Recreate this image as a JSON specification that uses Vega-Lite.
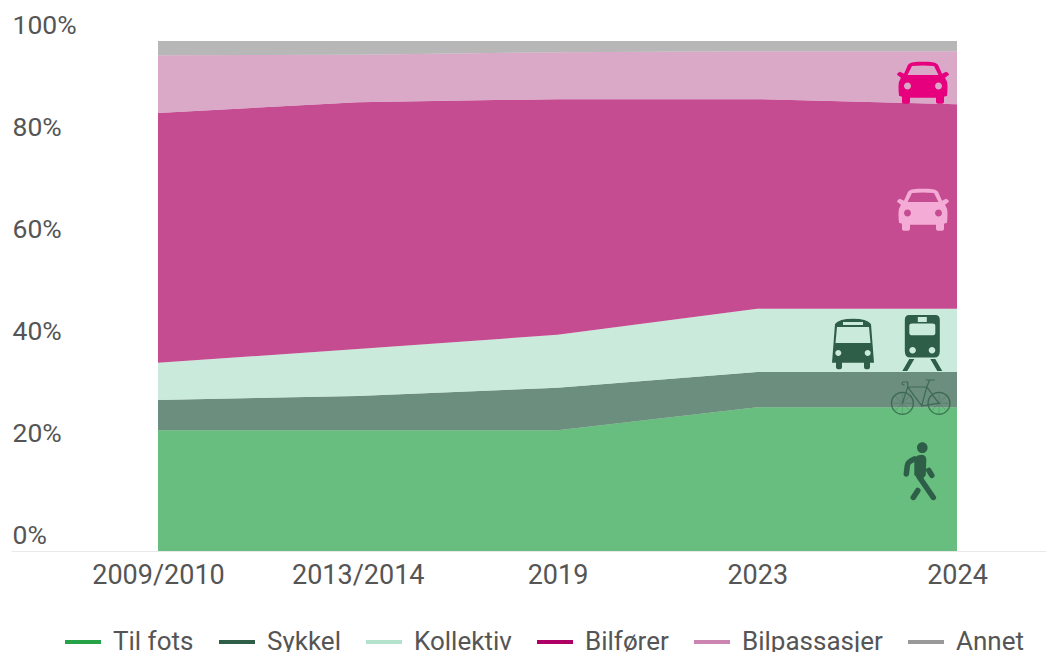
{
"$schema":"https://vega.github.io/schema/vega-lite/v6.json",
"autosize":"none",
"width":1035,"height":510,
"padding":{"left":11,"top":41,"right":0,"bottom":101},
"background":"white",
"config":{"view":{"stroke":null},"font":"Roboto"},
"layer":[
{"data":{"values":[
{"aar":"2009/2010","modus":"Til fots","rang":1,"andel":23.7},
{"aar":"2009/2010","modus":"Sykkel","rang":2,"andel":5.9},
{"aar":"2009/2010","modus":"Kollektiv","rang":3,"andel":7.3},
{"aar":"2009/2010","modus":"Bilfører","rang":4,"andel":49.0},
{"aar":"2009/2010","modus":"Bilpassasjer","rang":5,"andel":11.3},
{"aar":"2009/2010","modus":"Annet","rang":6,"andel":2.8},
{"aar":"2013/2014","modus":"Til fots","rang":1,"andel":23.7},
{"aar":"2013/2014","modus":"Sykkel","rang":2,"andel":6.7},
{"aar":"2013/2014","modus":"Kollektiv","rang":3,"andel":9.2},
{"aar":"2013/2014","modus":"Bilfører","rang":4,"andel":48.4},
{"aar":"2013/2014","modus":"Bilpassasjer","rang":5,"andel":9.3},
{"aar":"2013/2014","modus":"Annet","rang":6,"andel":2.7},
{"aar":"2019","modus":"Til fots","rang":1,"andel":23.7},
{"aar":"2019","modus":"Sykkel","rang":2,"andel":8.3},
{"aar":"2019","modus":"Kollektiv","rang":3,"andel":10.4},
{"aar":"2019","modus":"Bilfører","rang":4,"andel":46.2},
{"aar":"2019","modus":"Bilpassasjer","rang":5,"andel":9.2},
{"aar":"2019","modus":"Annet","rang":6,"andel":2.2},
{"aar":"2023","modus":"Til fots","rang":1,"andel":28.2},
{"aar":"2023","modus":"Sykkel","rang":2,"andel":6.9},
{"aar":"2023","modus":"Kollektiv","rang":3,"andel":12.4},
{"aar":"2023","modus":"Bilfører","rang":4,"andel":41.1},
{"aar":"2023","modus":"Bilpassasjer","rang":5,"andel":9.4},
{"aar":"2023","modus":"Annet","rang":6,"andel":2.0},
{"aar":"2024","modus":"Til fots","rang":1,"andel":28.2},
{"aar":"2024","modus":"Sykkel","rang":2,"andel":6.9},
{"aar":"2024","modus":"Kollektiv","rang":3,"andel":12.4},
{"aar":"2024","modus":"Bilfører","rang":4,"andel":40.1},
{"aar":"2024","modus":"Bilpassasjer","rang":5,"andel":10.4},
{"aar":"2024","modus":"Annet","rang":6,"andel":2.0}
]},
"mark":{"type":"area","opacity":0.7,"interpolate":"linear"},
"encoding":{
"x":{"field":"aar","type":"ordinal","sort":null,"title":null,
"scale":{"type":"point","domain":["2009/2010","2013/2014","2019","2023","2024"],"padding":0.59075,"align":0.6229},
"axis":{"labelAngle":0,"labelFont":"Roboto","labelFontSize":27,"labelColor":"#555555","ticks":false,"domainColor":"#e8e8e8","domainWidth":1,"labelPadding":11,"labelBaseline":"top","grid":false}},
"y":{"field":"andel","type":"quantitative","stack":"zero","title":null,
"scale":{"domain":[0,100],"nice":false},
"axis":{"values":[0,20,40,60,80,100],"labelExpr":"datum.value + '%'","labelFont":"Roboto","labelFontSize":26.5,"labelColor":"#555555","ticks":false,"domain":false,"grid":false,"labelAlign":"left","labelBaseline":"bottom","labelPadding":-1,"labelOffset":-2,"labelBound":false,"labelFlush":false}},
"color":{"field":"modus","type":"nominal","title":null,
"scale":{"domain":["Til fots","Sykkel","Kollektiv","Bilfører","Bilpassasjer","Annet"],"range":["#26a349","#2e5e47","#b4e2cd","#ae0064","#cc84b0","#999999"]},
"legend":{"orient":"none","legendX":54,"legendY":583,"direction":"horizontal","columns":6,"symbolType":"M-1,-0.11H1V0.11H-1Z","symbolSize":1296,"symbolOpacity":1,"symbolStrokeWidth":0,"labelFont":"Roboto","labelFontSize":26,"labelColor":"#555555","labelOffset":12,"columnPadding":25,"labelLimit":300}},
"order":{"field":"rang","type":"quantitative"}
}},
{"data":{"values":[{"aar":"2024","ikon":"Bilpassasjer","y":91.8}]},
"mark":{"type":"point","filled":true,"opacity":1,"size":4,"color":"#e6007e","xOffset":-34,"shape":"M-15,-18C-12,-21 -8,-21 0,-21C8,-21 12,-21 15,-18L19,-9L23,-11Q26,-10 26,-8L22,-5L24,-1Q25,3 24,13L21,14L21,19Q21,21 18,21L15,21Q13,21 13,19L13,15L-13,15L-13,19Q-13,21 -15,21L-18,21Q-21,21 -21,19L-21,14L-24,13Q-25,3 -24,-1L-22,-5L-26,-8Q-26,-10 -23,-11L-19,-9ZM-15.5,-7.7L15.5,-7.7L11,-16.7Q0,-18 -11,-16.7ZM-19,3.3a3.5,3.5 0 1 0 7,0a3.5,3.5 0 1 0 -7,0ZM12,3.3a3.5,3.5 0 1 0 7,0a3.5,3.5 0 1 0 -7,0Z"},
"encoding":{"x":{"field":"aar","type":"ordinal"},"y":{"field":"y","type":"quantitative"}}},
{"data":{"values":[{"aar":"2024","ikon":"Bilfører","y":66.9}]},
"mark":{"type":"point","filled":true,"opacity":1,"size":4,"color":"#f4acd6","xOffset":-34,"shape":"M-15,-18C-12,-21 -8,-21 0,-21C8,-21 12,-21 15,-18L19,-9L23,-11Q26,-10 26,-8L22,-5L24,-1Q25,3 24,13L21,14L21,19Q21,21 18,21L15,21Q13,21 13,19L13,15L-13,15L-13,19Q-13,21 -15,21L-18,21Q-21,21 -21,19L-21,14L-24,13Q-25,3 -24,-1L-22,-5L-26,-8Q-26,-10 -23,-11L-19,-9ZM-15.5,-7.7L15.5,-7.7L11,-16.7Q0,-18 -11,-16.7ZM-19,3.3a3.5,3.5 0 1 0 7,0a3.5,3.5 0 1 0 -7,0ZM12,3.3a3.5,3.5 0 1 0 7,0a3.5,3.5 0 1 0 -7,0Z"},
"encoding":{"x":{"field":"aar","type":"ordinal"},"y":{"field":"y","type":"quantitative"}}},
{"data":{"values":[{"aar":"2024","ikon":"Buss","y":40.6}]},
"mark":{"type":"point","filled":true,"opacity":1,"size":4,"color":"#2e5e47","xOffset":-104,"shape":"M-18,-20Q-14,-25.3 0,-25.3Q14,-25.3 18,-20L21,18.7L17,18.7L17,23Q17,25.3 14,25.3Q11,25.3 11,23L11,18.7L-11,18.7L-11,23Q-11,25.3 -14,25.3Q-17,25.3 -17,23L-17,18.7L-21,18.7ZM-16,-17L-17.5,-1L17.5,-1L16,-17ZM-10,-22L-10,-19L10,-19L10,-22ZM-17.7,9a3,3 0 1 0 6,0a3,3 0 1 0 -6,0ZM11.7,9a3,3 0 1 0 6,0a3,3 0 1 0 -6,0Z"},
"encoding":{"x":{"field":"aar","type":"ordinal"},"y":{"field":"y","type":"quantitative"}}},
{"data":{"values":[{"aar":"2024","ikon":"Tog","y":40.8}]},
"mark":{"type":"point","filled":true,"opacity":1,"size":4,"color":"#2e5e47","xOffset":-34.7,"shape":"M-13,-28L13,-28Q17.5,-28 17.5,-23L17.5,8Q17.5,14.7 12,14.7L-12,14.7Q-17.5,14.7 -17.5,8L-17.5,-23Q-17.5,-28 -13,-28ZM-13,-17L-13,-10Q-13,-7.7 -10,-7.7L10,-7.7Q13,-7.7 13,-10L13,-17Q13,-19.3 10,-19.3L-10,-19.3Q-13,-19.3 -13,-17ZM-4.5,-26L-4.5,-21L4.5,-21L4.5,-26ZM-13,7.3a3.3,3.3 0 1 0 6.6,0a3.3,3.3 0 1 0 -6.6,0ZM6.4,7.3a3.3,3.3 0 1 0 6.6,0a3.3,3.3 0 1 0 -6.6,0ZM-13,16L-8,16L-15,28L-20,28ZM8,16L13,16L20,28L15,28Z"},
"encoding":{"x":{"field":"aar","type":"ordinal"},"y":{"field":"y","type":"quantitative"}}},
{"data":{"values":[{"aar":"2024","ikon":"Sykkel","y":30.2}]},
"mark":{"type":"point","filled":false,"opacity":0.75,"size":4,"color":"#2e5e47","strokeWidth":1.2,"xOffset":-36.3,"shape":"M-29.3,6.3a11,11 0 1 0 22,0a11,11 0 1 0 -22,0ZM7.3,6.3a11,11 0 1 0 22,0a11,11 0 1 0 -22,0ZM-18.3,6.3L-13,-10L6,-10L1,9L-13,-10M1,9L18.3,6.3L6,-10M6,-10L9,-17M5,-17L14,-17M-13,-10L-13,-15L-18,-15Q-20,-12 -16,-12"},
"encoding":{"x":{"field":"aar","type":"ordinal"},"y":{"field":"y","type":"quantitative"}}},
{"data":{"values":[{"aar":"2024","ikon":"Sykkel eiker","y":30.2}]},
"mark":{"type":"point","filled":false,"opacity":0.35,"size":4,"color":"#2e5e47","strokeWidth":0.7,"xOffset":-36.3,"shape":"M-29.3,6.3L-7.3,6.3M-18.3,-4.7L-18.3,17.3M-26,-1.4L-10.6,14M-26,14L-10.6,-1.4M7.3,6.3L29.3,6.3M18.3,-4.7L18.3,17.3M10.6,-1.4L26,14M10.6,14L26,-1.4"},
"encoding":{"x":{"field":"aar","type":"ordinal"},"y":{"field":"y","type":"quantitative"}}},
{"data":{"values":[{"aar":"2024","ikon":"Gående","y":15.5}]},
"mark":{"type":"point","filled":true,"opacity":1,"size":4,"color":"#2e5e47","xOffset":-36.7,"shape":"M-3.3,-24.3a5.3,5.3 0 1 0 10.6,0a5.3,5.3 0 1 0 -10.6,0ZM-6,-14Q-2,-18 3,-17Q6,-16 6,-12L5.5,3L1,9L-6,3Z"},
"encoding":{"x":{"field":"aar","type":"ordinal"},"y":{"field":"y","type":"quantitative"}}},
{"data":{"values":[{"aar":"2024","ikon":"Gående lemmer","y":15.5}]},
"mark":{"type":"point","filled":false,"opacity":1,"size":4,"color":"#2e5e47","strokeWidth":5.5,"strokeCap":"round","strokeJoin":"round","xOffset":-36.7,"shape":"M-6,-13Q-13,-10 -13,-6L-14,2M8.5,-1.5L11.5,3.5M-1.3,4.7L13,25.5M-2.5,18.5L-7,25.5"},
"encoding":{"x":{"field":"aar","type":"ordinal"},"y":{"field":"y","type":"quantitative"}}}
]
}
